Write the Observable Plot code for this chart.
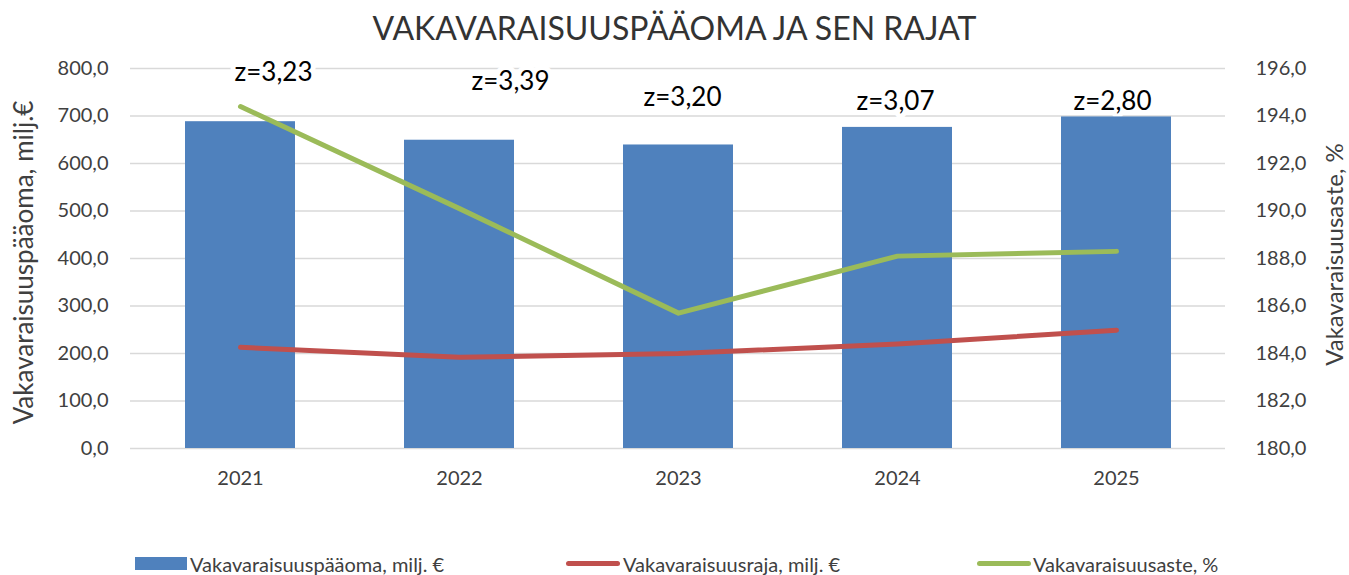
<!DOCTYPE html>
<html><head><meta charset="utf-8">
<script src="https://cdn.jsdelivr.net/npm/d3@7"></script>
<script src="https://cdn.jsdelivr.net/npm/@observablehq/plot@0.6"></script>
<style>
body{margin:0;background:#fff;}
#wrap{position:relative;width:1349px;height:575px;overflow:hidden;font-family:Lato,"Open Sans",sans-serif;}
#chart{position:absolute;left:0;top:0;}
#title{position:absolute;left:0;top:8px;width:1349px;text-align:center;font-size:32px;color:#333333;line-height:40px;}
.leg{position:absolute;top:552px;height:24px;line-height:24px;font-size:20px;color:#404040;white-space:nowrap;}
.sw{position:absolute;}
</style></head>
<body>
<div id="wrap">
<div id="chart"></div>
<div id="title">VAKAVARAISUUSPÄÄOMA JA SEN RAJAT</div>
<div id="legend"></div>
</div>
<script>
const years = ["2021","2022","2023","2024","2025"];
const capital = [688, 649, 639, 676, 698];        // Vakavaraisuuspääoma, milj. €
const limit = [213, 192, 200, 220, 249];          // Vakavaraisuusraja, milj. €
const ratio = [194.4, 190.1, 185.7, 188.1, 188.3]; // Vakavaraisuusaste, %
const zLabels = ["z=3,23","z=3,39","z=3,20","z=3,07","z=2,80"];
const zLabelLevel = [792, 773, 739, 730, 730];     // label anchor, left-axis units
const leftTicks = [0,100,200,300,400,500,600,700,800];
const rightTicks = [180,182,184,186,188,190,192,194,196];
const seriesNames = ["Vakavaraisuuspääoma, milj. €","Vakavaraisuusraja, milj. €","Vakavaraisuusaste, %"];
const colors = ["#4f81bd","#c0504d","#9bbb59"];

const labelDx = [33, 51, 4, -2, -4];
const k = 800/16;
const toLeft = v => (v-180)*k;
const fmt = v => v.toFixed(1).replace(".", ",");

const data = years.map((y,i)=>({year:y, capital:capital[i], limit:limit[i], ratioL:toLeft(ratio[i]), z:zLabels[i], zl:zLabelLevel[i]}));

const zMarks = data.map((d,i)=>Plot.text([d], {x:"year", y:"zl", text:"z", dx:labelDx[i], fontSize:26, fill:"black", stroke:"white", strokeWidth:10, paintOrder:"stroke"}));

const chart = Plot.plot({
  width:1349, height:520,
  marginTop:68, marginBottom:72, marginLeft:130, marginRight:124,
  style:{fontFamily:"Lato, 'Open Sans', sans-serif", fontSize:"20px", color:"#404040", background:"white"},
  x:{domain:years, paddingInner:0.5, paddingOuter:0.25},
  y:{domain:[0,800]},
  marks:[
    Plot.gridY(leftTicks, {stroke:"#d9d9d9", strokeOpacity:1, strokeWidth:1.5}),
    ...zMarks,
    Plot.barY(data, {x:"year", y:"capital", fill:colors[0]}),
    Plot.line(data, {x:"year", y:"limit", stroke:colors[1], strokeWidth:5, strokeLinecap:"round", strokeLinejoin:"round"}),
    Plot.line(data, {x:"year", y:"ratioL", stroke:colors[2], strokeWidth:5, strokeLinecap:"round", strokeLinejoin:"round"}),
    Plot.axisX({tickSize:0, tickPadding:22, fontSize:20, label:null}),
    Plot.axisY(leftTicks, {anchor:"left", tickSize:0, tickPadding:22, tickFormat:fmt, fontSize:20, label:null}),
    Plot.axisY(rightTicks.map(toLeft), {anchor:"right", tickSize:0, tickPadding:30, tickFormat:d=>fmt(d/k+180), fontSize:20, label:null}),
    Plot.text(["Vakavaraisuuspääoma, milj.€"], {frameAnchor:"left", textAnchor:"middle", dx:-106, dy:4, rotate:-90, fontSize:26, fill:"#404040"}),
    Plot.text(["Vakavaraisuusaste, %"], {frameAnchor:"right", textAnchor:"middle", dx:110, dy:-4, rotate:-90, fontSize:24, fill:"#404040"})
  ]
});
document.getElementById("chart").appendChild(chart);

// legend
const leg = document.getElementById("legend");
const items = [
  {sx:135, tx:190, type:"rect"},
  {sx:566, tx:623, type:"line"},
  {sx:977, tx:1033, type:"line"}
];
items.forEach((it,i)=>{
  const sw = document.createElement("div");
  sw.className = "sw";
  if(it.type==="rect"){
    Object.assign(sw.style,{left:it.sx+"px", top:"557px", width:"52px", height:"13px", background:colors[i]});
  } else {
    Object.assign(sw.style,{left:it.sx+"px", top:"561px", width:"54px", height:"5px", background:colors[i], borderRadius:"3px"});
  }
  leg.appendChild(sw);
  const t = document.createElement("div");
  t.className = "leg";
  t.style.left = it.tx+"px";
  t.textContent = seriesNames[i];
  leg.appendChild(t);
});
</script>
</body></html>
